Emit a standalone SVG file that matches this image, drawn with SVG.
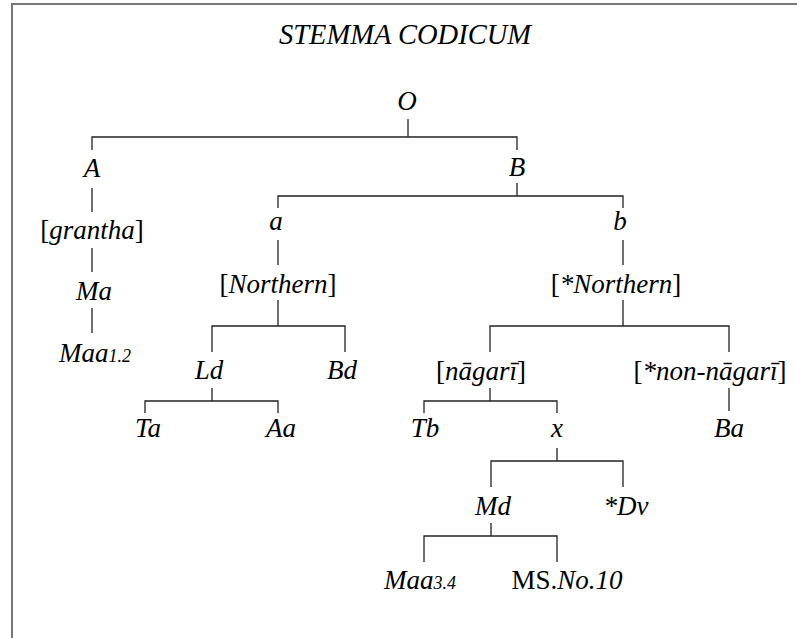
<svg xmlns="http://www.w3.org/2000/svg" width="797" height="638" viewBox="0 0 797 638">
  <style>
    .frame { fill: none; stroke: #777; stroke-width: 2; }
    .edge { fill: none; stroke: #222; stroke-width: 1.3; }
    text { font-family: "Liberation Serif", "Times New Roman", serif; font-style: italic; font-size: 27px; fill: #000; text-anchor: middle; }
    .title { font-size: 28.5px; }
    .small { font-size: 18px; }
    .up { font-style: normal; }
  </style>
  <rect width="797" height="638" fill="#fff"/>
  <!-- page frame: top and left rules -->
  <path class="frame" d="M12,638 V4 H797"/>

  <text id="title" class="title" x="405" y="44">STEMMA CODICUM</text>

  <g id="connectors">
    <!-- O -> A, B -->
    <path class="edge" d="M408,119 V137 M92,150 V137 H517 V150"/>
    <!-- A -> [grantha] -> Ma -> Maa1.2 -->
    <path class="edge" d="M92,188 V212 M92,248 V272 M92,308 V333"/>
    <!-- B -> a, b -->
    <path class="edge" d="M517,183 V196 M278,208 V196 H623 V208"/>
    <!-- a -> [Northern] -> Ld, Bd -->
    <path class="edge" d="M278,240 V265 M278,300 V326 M212,352 V326 H345 V352"/>
    <!-- Ld -> Ta, Aa -->
    <path class="edge" d="M212,388 V401 M145,413 V401 H278 V413"/>
    <!-- b -> [*Northern] -> [nagari], [*non-nagari] -->
    <path class="edge" d="M623,240 V265 M623,300 V326 M490,352 V326 H729 V352"/>
    <!-- [nagari] -> Tb, x -->
    <path class="edge" d="M490,388 V401 M424,413 V401 H557 V413"/>
    <!-- [*non-nagari] -> Ba -->
    <path class="edge" d="M729,388 V411"/>
    <!-- x -> Md, *Dv -->
    <path class="edge" d="M557,448 V461 M491,487 V461 H623 V487"/>
    <!-- Md -> Maa3.4, MS.No.10 -->
    <path class="edge" d="M491,523 V536 M424,562 V536 H557 V562"/>
  </g>

  <g id="node-O"><text x="407" y="110">O</text></g>
  <g id="node-A"><text x="92" y="177">A</text></g>
  <g id="node-B"><text x="517" y="176">B</text></g>
  <g id="node-grantha"><text x="92" y="239"><tspan class="up">[</tspan>grantha<tspan class="up">]</tspan></text></g>
  <g id="node-Ma"><text x="94" y="300">Ma</text></g>
  <g id="node-Maa12"><text x="95" y="362">Maa<tspan class="small">1.2</tspan></text></g>
  <g id="node-a"><text x="276" y="230">a</text></g>
  <g id="node-b"><text x="620" y="230">b</text></g>
  <g id="node-Northern"><text x="278" y="293"><tspan class="up">[</tspan>Northern<tspan class="up">]</tspan></text></g>
  <g id="node-Ld"><text x="209" y="379">Ld</text></g>
  <g id="node-Bd"><text x="342" y="379">Bd</text></g>
  <g id="node-Ta"><text x="148" y="437">Ta</text></g>
  <g id="node-Aa"><text x="281" y="437">Aa</text></g>
  <g id="node-starNorthern"><text x="616" y="293"><tspan class="up">[</tspan>*Northern<tspan class="up">]</tspan></text></g>
  <g id="node-nagari"><text x="481" y="380"><tspan class="up">[</tspan>nāgarī<tspan class="up">]</tspan></text></g>
  <g id="node-nonnagari"><text x="710" y="380"><tspan class="up">[</tspan>*non-nāgarī<tspan class="up">]</tspan></text></g>
  <g id="node-Tb"><text x="425" y="437">Tb</text></g>
  <g id="node-x"><text x="557" y="437">x</text></g>
  <g id="node-Ba"><text x="729" y="437">Ba</text></g>
  <g id="node-Md"><text x="493" y="515">Md</text></g>
  <g id="node-Dv"><text x="626" y="515">*Dv</text></g>
  <g id="node-Maa34"><text x="420" y="589">Maa<tspan class="small">3.4</tspan></text></g>
  <g id="node-MSNo10"><text x="567" y="589"><tspan class="up">MS.</tspan>No.10</text></g>
</svg>
